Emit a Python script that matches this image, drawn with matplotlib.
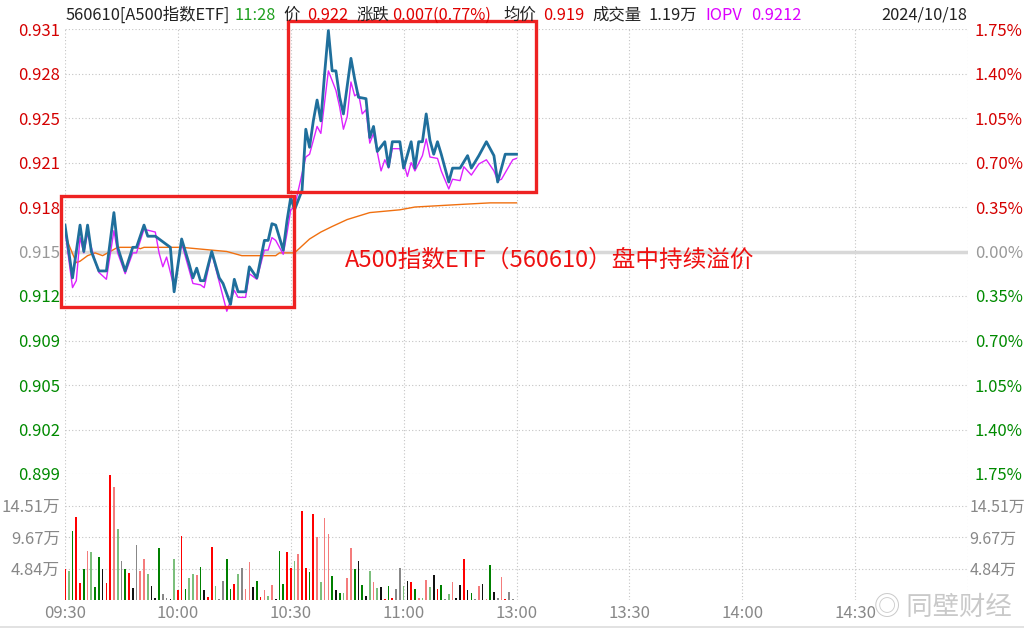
import numpy as np
import matplotlib.pyplot as plt
from matplotlib.patches import Rectangle

plt.rcParams['font.family'] = ['Noto Sans CJK SC', 'DejaVu Sans']

# previous close and the percent levels used for the price / percent axes
base_price = 0.915
pct_levels = [-1.75, -1.40, -1.05, -0.70, -0.35, 0.0, 0.35, 0.70, 1.05, 1.40, 1.75]
price_labels = ['0.899', '0.902', '0.905', '0.909', '0.912', '0.915',
                '0.918', '0.921', '0.925', '0.928', '0.931']
pct_labels = ['1.75%', '1.40%', '1.05%', '0.70%', '0.35%', '0.00%',
              '0.35%', '0.70%', '1.05%', '1.40%', '1.75%']

# minutes after 09:30 (afternoon continues after 120)
time_ticks = [0, 30, 60, 90, 120, 150, 180, 210]
time_labels = ['09:30', '10:00', '10:30', '11:00', '13:00', '13:30', '14:00', '14:30']

# price line (minute, price)
price_t = [0, 2, 4, 5, 6, 7, 9, 11, 13, 14, 16, 18, 19, 21, 22, 24, 28, 29, 31, 33,
           34, 35, 36, 37, 39, 41, 42, 44, 45, 46, 48, 49, 51, 53, 54, 55, 56, 58, 59,
           60, 61, 63, 64, 65, 66, 67, 68, 69, 70, 71, 72, 73, 74, 76, 77, 78, 80, 81,
           82, 83, 85, 86, 87, 89, 90, 92, 93, 94, 95, 96, 97, 98, 99, 100, 102, 103,
           105, 107, 108, 110, 112, 114, 115, 117, 120]
price_v = [0.9169, 0.9131, 0.9169, 0.9150, 0.9169, 0.9150, 0.9136, 0.9136, 0.9178, 0.9153,
           0.9136, 0.9153, 0.9153, 0.9169, 0.9161, 0.9161, 0.9153, 0.9121, 0.9159, 0.9141,
           0.9131, 0.9138, 0.9129, 0.9129, 0.9150, 0.9131, 0.9127, 0.9112, 0.9130, 0.9121,
           0.9121, 0.9139, 0.9131, 0.9158, 0.9158, 0.9170, 0.9169, 0.9151, 0.9172,
           0.9189, 0.9180, 0.9194, 0.9238, 0.9225, 0.9244, 0.9259, 0.9244, 0.9278, 0.9309,
           0.9280, 0.9280, 0.9261, 0.9249, 0.9289, 0.9274, 0.9261, 0.9260, 0.9232,
           0.9240, 0.9222, 0.9229, 0.9211, 0.9229, 0.9229, 0.9210, 0.9229, 0.9210, 0.9229,
           0.9229, 0.9249, 0.9230, 0.9220, 0.9229, 0.9220, 0.9200, 0.9210,
           0.9210, 0.9219, 0.9210, 0.9219, 0.9229, 0.9219, 0.9200, 0.9220, 0.9220]

# IOPV line
iopv_t = [0, 2, 3, 4, 5, 6, 8, 9, 11, 13, 14, 16, 18, 19, 21, 24, 25, 26, 27, 29, 31,
          34, 36, 37, 39, 41, 43, 45, 46, 48, 49, 51, 53, 54, 55, 56, 58, 59, 60, 61,
          64, 65, 67, 68, 70, 72, 73, 74, 75, 76, 77, 78, 79, 80, 81, 82, 84, 85, 86,
          87, 89, 91, 92, 93, 95, 96, 97, 99, 100, 102, 103, 105, 106, 108, 110, 112,
          114, 115, 116, 119, 120]
iopv_v = [0.9165, 0.9124, 0.9129, 0.9160, 0.9149, 0.9163, 0.9143, 0.9135, 0.9130, 0.9165,
          0.9149, 0.9134, 0.9149, 0.9149, 0.9166, 0.9164, 0.9149, 0.9139, 0.9146, 0.9124,
          0.9156, 0.9127, 0.9126, 0.9124, 0.9149, 0.9128, 0.9107, 0.9122, 0.9117, 0.9117,
          0.9134, 0.9130, 0.9151, 0.9151, 0.9160, 0.9158, 0.9148, 0.9163, 0.9180, 0.9182,
          0.9218, 0.9220, 0.9240, 0.9235, 0.9280, 0.9266, 0.9254, 0.9238, 0.9247, 0.9272,
          0.9262, 0.9264, 0.9249, 0.9252, 0.9228, 0.9235, 0.9208, 0.9216, 0.9210,
          0.9224, 0.9224, 0.9204, 0.9214, 0.9208, 0.9219, 0.9231, 0.9218, 0.9217, 0.9208,
          0.9195, 0.9202, 0.9201, 0.9211, 0.9205, 0.9213, 0.9216,
          0.9208, 0.9201, 0.9202, 0.9216, 0.9217]

# average price line
avg_t = [0, 1, 3, 4, 6, 8, 10, 12, 14, 19, 20, 21, 31, 35, 43, 47, 56, 57, 61, 63, 65,
         68, 71, 75, 81, 89, 93, 106, 113, 120]
avg_v = [0.9165, 0.9155, 0.9142, 0.9143, 0.9147, 0.9149, 0.9147, 0.9150, 0.9153, 0.9153,
         0.9152, 0.9153, 0.9153, 0.9152, 0.9150, 0.9147, 0.9147, 0.9149, 0.9149, 0.9154,
         0.9159, 0.9164, 0.9168, 0.9173, 0.9178, 0.9180, 0.9182, 0.9184, 0.9185, 0.9185]

# volume per minute (万) and bar colour code
volume = [4.69, 4.53, 10.65, 12.79, 2.65, 4.69, 7.59, 7.44, 1.99, 6.67,
          4.69, 2.55, 19.26, 17.42, 10.95, 6.06, 4.69, 4.08, 1.78, 8.51,
          4.53, 6.22, 3.92, 2.09, 0.31, 8.05, 0.97, 0.25, 0.20, 6.37,
          1.53, 9.88, 1.63, 3.31, 3.92, 3.77, 5.09, 1.48, 0.41, 8.20,
          2.09, 0.10, 2.85, 6.22, 1.63, 2.39, 3.92, 4.99, 1.63, 5.91,
          1.99, 2.85, 0.46, 1.48, 0.56, 2.24, 0.10, 7.59, 2.39, 7.44,
          4.99, 6.06, 7.13, 13.70, 4.99, 4.23, 13.25, 9.73, 2.70, 12.63,
          10.19, 3.62, 1.48, 1.12, 1.02, 3.31, 8.05, 4.69, 6.06, 2.24,
          0.56, 4.53, 2.70, 1.78, 1.94, 0.15, 2.09, 0.25, 1.63, 4.84,
          2.09, 2.85, 2.70, 1.63, 0.25, 0.25, 3.00, 1.94, 3.77, 1.63,
          2.24, 0.10, 0.87, 2.70, 0.25, 2.24, 6.37, 1.48, 1.02, 0.10,
          2.09, 2.39, 0.10, 5.45, 1.17, 0.25, 3.46, 0.10, 1.17, 0.20]
vol_kind = ['r', 'lg', 'g', 'r', 'r', 'g', 'lr', 'lg', 'g', 'g',
            'k', 'r', 'r', 'lr', 'lg', 'a', 'g', 'r', 'k', 'a',
            'lr', 'lr', 'lg', 'k', 'k', 'g', 'a', 'a', 'k', 'lg',
            'r', 'r', 'g', 'lg', 'lg', 'lr', 'g', 'k', 'r', 'r',
            'lg', 'a', 'a', 'g', 'g', 'r', 'lg', 'a', 'lr', 'lr',
            'k', 'g', 'r', 'lr', 'lg', 'lr', 'k', 'g', 'g', 'r',
            'r', 'lg', 'lr', 'r', 'r', 'g', 'r', 'lr', 'lg', 'lr',
            'lr', 'g', 'k', 'g', 'lg', 'lr', 'lr', 'g', 'k', 'g',
            'k', 'lg', 'lr', 'lg', 'k', 'r', 'g', 'r', 'a', 'a',
            'lg', 'k', 'r', 'g', 'lr', 'lg', 'lr', 'lg', 'k', 'r',
            'g', 'a', 'lg', 'lr', 'k', 'k', 'r', 'k', 'g', 'a',
            'lr', 'k', 'lr', 'g', 'k', 'a', 'lr', 'r', 'a', 'a']
vol_ticks = [4.8375, 9.675, 14.5125]
vol_labels = ['4.84万', '9.67万', '14.51万']

kind_colors = {'r': '#ff0000', 'lr': '#f47c7c', 'g': '#008000', 'lg': '#7cbf7c',
               'k': '#111111', 'a': '#888888'}
RED = '#d40000'
GREEN = '#008a00'
GRAY = '#999999'
grid_kw = dict(color='#c4c4c4', linestyle=(0, (1, 2)), linewidth=0.8)

fig = plt.figure(figsize=(10.24, 6.33), dpi=100)
ax = fig.add_axes([65 / 1024, 1 - 474 / 633, 903 / 1024, 445 / 633])
axv = fig.add_axes([65 / 1024, 1 - 600 / 633, 903 / 1024, 126 / 633], sharex=ax)

price_ticks = [base_price * (1 + p / 100) for p in pct_levels]
ax.set_ylim(price_ticks[0], price_ticks[-1])
ax.set_xlim(0, 240)

for y in price_ticks:
    ax.axhline(y, **grid_kw, zorder=0)
for x in time_ticks + [240]:
    ax.axvline(x, **grid_kw, zorder=0)
    axv.axvline(x, **grid_kw, zorder=0)
ax.axhline(base_price, color='#d8d8d8', linewidth=2.5, zorder=1)

ax.plot(avg_t, avg_v, color='#f07010', linewidth=1.0, zorder=2)
ax.plot(iopv_t, iopv_v, color='#dd22ff', linewidth=1.0, zorder=3)
ax.plot(price_t, price_v, color='#1f6f9c', linewidth=2.0, zorder=4)

for spine in ax.spines.values():
    spine.set_visible(False)
ax.tick_params(axis='both', length=0)
ax.tick_params(axis='x', labelbottom=False)
ax.set_yticks(price_ticks)
ax.set_yticklabels(price_labels, fontsize=12)

axr = ax.twinx()
axr.set_ylim(ax.get_ylim())
axr.set_yticks(price_ticks)
axr.set_yticklabels(pct_labels, fontsize=12)
axr.tick_params(axis='y', length=0, pad=5)
for spine in axr.spines.values():
    spine.set_visible(False)

for lab_l, lab_r, p in zip(ax.get_yticklabels(), axr.get_yticklabels(), pct_levels):
    c = RED if p > 0 else (GREEN if p < 0 else GRAY)
    lab_l.set_color(c)
    lab_r.set_color(c)

# volume pane
minutes = np.arange(len(volume))
axv.bar(minutes, volume, width=0.45, color=[kind_colors[k] for k in vol_kind], zorder=2)
axv.set_ylim(0, 4 * vol_ticks[0])
for y in vol_ticks:
    axv.axhline(y, **grid_kw, zorder=0)
for spine in axv.spines.values():
    spine.set_visible(False)
axv.set_yticks(vol_ticks)
axv.set_yticklabels(vol_labels, fontsize=12, color='#888888')
axv.tick_params(axis='both', length=0)
axv.set_xticks(time_ticks)
axv.set_xticklabels(time_labels, fontsize=12, color='#888888')
axvr = axv.twinx()
axvr.set_ylim(axv.get_ylim())
axvr.set_yticks(vol_ticks)
axvr.set_yticklabels(vol_labels, fontsize=11.5, color='#888888')
axvr.tick_params(axis='y', length=0, pad=1)
for spine in axvr.spines.values():
    spine.set_visible(False)

# red highlight boxes (in data coordinates)
box_kw = dict(fill=False, edgecolor='#ee2222', linewidth=2.4, clip_on=False, zorder=6)
ax.add_patch(Rectangle((-1.1, 0.9110), 62, 0.0080, **box_kw))
ax.add_patch(Rectangle((59.2, 0.9193), 66, 0.0123, **box_kw))
ax.text(74.5, 0.9144, 'A500指数ETF（560610）盘中持续溢价', color='#ee1111',
        fontsize=17, va='center', ha='left', zorder=7)

# header line
hy = 1 - 15 / 633
header = [(66, '560610[A500指数ETF]', '#222222'), (234, '11:28', '#20a020'),
          (283, '价', '#222222'), (307, '0.922', '#e00000'), (356, '涨跌', '#222222'),
          (392, '0.007(0.77%)', '#e00000'), (503, '均价', '#222222'),
          (543, '0.919', '#e00000'), (592, '成交量', '#222222'), (648, '1.19万', '#222222'),
          (705, 'IOPV', '#dd00ff'), (751, '0.9212', '#dd00ff'), (881, '2024/10/18', '#222222')]
for x, s, c in header:
    fig.text(x / 1024, hy, s, color=c, fontsize=11.8, va='center', ha='left')

# bottom separator and watermark
fig.add_artist(plt.Line2D([0, 1], [1 - 627 / 633] * 2, color='#dddddd', linewidth=1.2))
fig.text(1012 / 1024, 1 - 607 / 633, '◎ 同壁财经', color='#c4c4c4', fontsize=19,
         ha='right', va='center', alpha=0.9)

plt.savefig('out.png', dpi=100)
